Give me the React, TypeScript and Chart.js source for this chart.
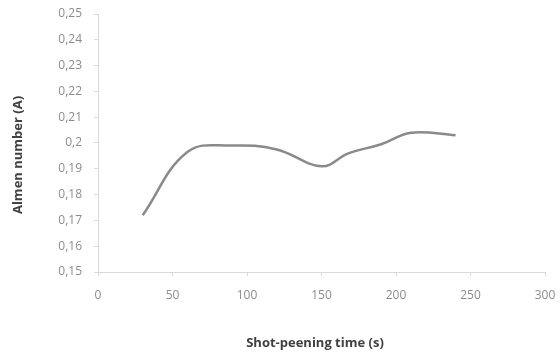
import React, { useEffect, useRef } from "react";
import { Chart, registerables } from "chart.js";

Chart.register(...registerables);

const times = [30, 60, 90, 120, 150, 168, 190, 210, 240];
const almen = [0.172, 0.1965, 0.199, 0.1975, 0.191, 0.196, 0.1995, 0.204, 0.203];
const xTitle = "Shot-peening time (s)";
const yTitle = "Almen number (A)";

const fmt = (v: number) => String(Math.round(v * 100) / 100).replace(".", ",");

export default function App() {
  const ref = useRef<HTMLCanvasElement | null>(null);
  useEffect(() => {
    if (!ref.current) return;
    const titlePlugin = {
      id: "axisTitles",
      afterDraw(chart: any) {
        const ctx = chart.ctx;
        ctx.save();
        ctx.fillStyle = "#404040";
        ctx.font = "bold 13px 'Open Sans'";
        ctx.textAlign = "center";
        ctx.textBaseline = "middle";
        ctx.fillText(xTitle, 315, 343);
        ctx.translate(18, 155);
        ctx.rotate(-Math.PI / 2);
        ctx.fillText(yTitle, 0, 0);
        ctx.restore();
      },
    };
    const chart = new Chart(ref.current, {
      type: "line",
      data: {
        datasets: [
          {
            data: times.map((t, i) => ({ x: t, y: almen[i] })),
            borderColor: "#8a8a8a",
            borderWidth: 2.5,
            pointRadius: 0,
            tension: 0.4,
            fill: false,
          },
        ],
      },
      options: {
        animation: false,
        responsive: false,
        layout: { padding: { top: 14, right: 15, left: 0, bottom: 0 } },
        plugins: { legend: { display: false }, tooltip: { enabled: false } },
        scales: {
          x: {
            type: "linear",
            min: 0,
            max: 300,
            ticks: {
              stepSize: 50,
              color: "#8c8c8c",
              font: { family: "'Open Sans'", size: 12 },
              padding: 12,
              maxRotation: 0,
            },
            grid: { drawOnChartArea: false, drawTicks: true, tickLength: 4, color: "#d9d9d9" },
            border: { color: "#d9d9d9", width: 1 },
            afterFit: (s: any) => {
              s.height = 85;
              s.paddingLeft = 0;
              s.paddingRight = 0;
            },
          },
          y: {
            min: 0.15,
            max: 0.25,
            ticks: {
              stepSize: 0.01,
              color: "#8c8c8c",
              font: { family: "'Open Sans'", size: 12 },
              padding: 12,
              callback: (v: any) => fmt(Number(v)),
            },
            grid: { drawOnChartArea: false, drawTicks: true, tickLength: 4, color: "#d9d9d9" },
            border: { color: "#d9d9d9", width: 1 },
            afterFit: (s: any) => {
              s.width = 98;
              s.paddingTop = 0;
              s.paddingBottom = 0;
            },
          },
        },
      },
      plugins: [titlePlugin],
    });
    return () => chart.destroy();
  }, []);
  return (
    <div style={{ position: "absolute", left: 0, top: 0, width: 560, height: 357, background: "#fff" }}>
      <canvas ref={ref} width={560} height={357} />
    </div>
  );
}
